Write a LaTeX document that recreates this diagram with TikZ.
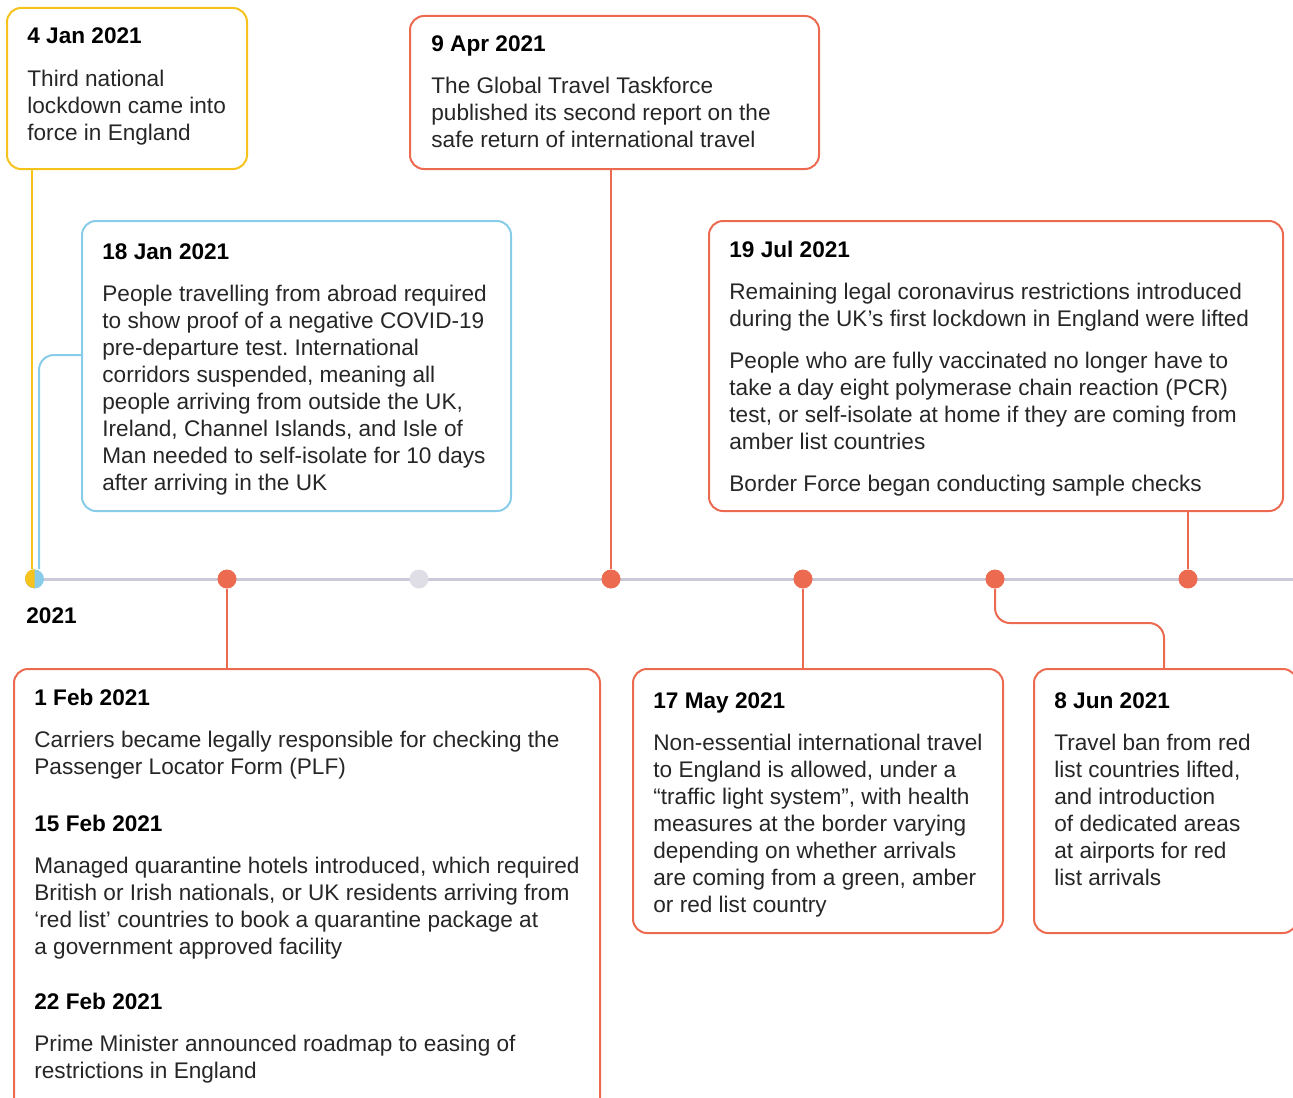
\documentclass[tikz,border=0pt]{standalone}
\usepackage{fontspec}
\setmainfont{Liberation Sans}
\usetikzlibrary{fit}
\frenchspacing

\definecolor{tlorange}{HTML}{EC6A4F}
\definecolor{tlyellow}{HTML}{F6C21C}
\definecolor{tlblue}{HTML}{88CCEA}
\definecolor{tlaxis}{HTML}{CBC9D9}
\definecolor{tlpale}{HTML}{DFDEE6}
\definecolor{ink}{HTML}{262626}

\begin{document}
\begin{tikzpicture}[x=0.5pt,y=-0.5pt,%
  every node/.style={font=\fontsize{11.3}{13.5}\selectfont},%
  card/.style={draw=#1,line width=1pt,rounded corners=7pt,inner sep=0pt},%
  date/.style={font=\fontsize{11.3}{13.5}\selectfont\bfseries,anchor=base west,inner sep=0pt},%
  note/.style={anchor=north west,yshift=8pt,align=left,inner sep=0pt,text=ink,%
    execute at begin node=\strut},%
  dot/.style={circle,fill=#1,minimum size=9.5pt,inner sep=0pt},%
  link/.style={draw=#1,line width=1pt,rounded corners=7.5pt}]

  \useasboundingbox (0,0) rectangle (1293,1097);
  \clip (0,0) rectangle (1293,1097);

  \draw[tlaxis,line width=1.5pt] (34,579) -- (1300,579);
  \node[dot=tlblue] (d1) at (34.5,579) {};
  \fill[tlyellow] (d1.north) arc[start angle=90,end angle=270,radius=4.75pt] -- cycle;
  \node[dot=tlorange] (d2) at (227,579) {};
  \node[dot=tlpale] (d3) at (419,579) {};
  \node[dot=tlorange] (d4) at (611,579) {};
  \node[dot=tlorange] (d5) at (803,579) {};
  \node[dot=tlorange] (d6) at (995,579) {};
  \node[dot=tlorange] (d7) at (1188,579) {};
  \node[date] (year) at (26,623) {2021};

  \node[card=tlyellow,fit={(7,8) (247,169)}] (jan4) {};
  \node[date] (jan4-date) at (27,44) {4 Jan 2021};
  \node[note] (jan4-text) at (27,86) {Third national\\lockdown came into\\force in England};

  \node[card=tlblue,fit={(82,221) (511,511)}] (jan18) {};
  \node[date] (jan18-date) at (102,259) {18 Jan 2021};
  \node[note] (jan18-text) at (102,301) {People travelling from abroad required\\to show proof of a negative COVID-19\\pre-departure test. International\\corridors suspended, meaning all\\people arriving from outside the UK,\\Ireland, Channel Islands, and Isle of\\Man needed to self-isolate for 10 days\\after arriving in the UK};

  \node[card=tlorange,fit={(410,16) (819,169)}] (apr9) {};
  \node[date] (apr9-date) at (431,52) {9 Apr 2021};
  \node[note] (apr9-text) at (431,93) {The Global Travel Taskforce\\published its second report on the\\safe return of international travel};

  \node[card=tlorange,fit={(709,221) (1283,511)}] (jul19) {};
  \node[date] (jul19-date) at (729,257) {19 Jul 2021};
  \node[note] (jul19-text) at (729,299) {Remaining legal coronavirus restrictions introduced\\during the UK’s first lockdown in England were lifted\\[7.5pt]People who are fully vaccinated no longer have to\\take a day eight polymerase chain reaction (PCR)\\test, or self-isolate at home if they are coming from\\amber list countries\\[7.5pt]Border Force began conducting sample checks};

  \node[card=tlorange,fit={(14,669) (600,1115)}] (feb1) {};
  \node[date] (feb1-date) at (34,705) {1 Feb 2021};
  \node[note] (feb1-text) at (34,747) {Carriers became legally responsible for checking the\\Passenger Locator Form (PLF)};
  \node[date] (feb15-date) at (34,831) {15 Feb 2021};
  \node[note] (feb15-text) at (34,873) {Managed quarantine hotels introduced, which required\\British or Irish nationals, or UK residents arriving from\\‘red list’ countries to book a quarantine package at\\a government approved facility};
  \node[date] (feb22-date) at (34,1009) {22 Feb 2021};
  \node[note] (feb22-text) at (34,1051) {Prime Minister announced roadmap to easing of\\restrictions in England};

  \node[card=tlorange,fit={(633,669) (1003,933)}] (may17) {};
  \node[date] (may17-date) at (653,708) {17 May 2021};
  \node[note] (may17-text) at (653,750) {Non-essential international travel\\to England is allowed, under a\\“traffic light system”, with health\\measures at the border varying\\depending on whether arrivals\\are coming from a green, amber\\or red list country};

  \node[card=tlorange,fit={(1034,669) (1297,933)}] (jun8) {};
  \node[date] (jun8-date) at (1054,708) {8 Jun 2021};
  \node[note] (jun8-text) at (1054,750) {Travel ban from red\\list countries lifted,\\and introduction\\of dedicated areas\\at airports for red\\list arrivals};

  \coordinate (ylw) at (32,579);
  \coordinate (blu) at (39,579);
  \coordinate (jun8-in) at (1164,669);
  \draw[link=tlyellow] (ylw |- jan4.south) -- (ylw |- d1.north);
  \draw[link=tlblue] (jan18.west |- 0,355) -- (blu |- 0,355) -- (blu |- d1.north);
  \draw[link=tlorange] (apr9.south -| d4) -- (d4);
  \draw[link=tlorange] (jul19.south -| d7) -- (d7);
  \draw[link=tlorange] (d2) -- (d2 |- feb1.north);
  \draw[link=tlorange] (d5) -- (d5 |- may17.north);
  \draw[link=tlorange] (d6) -- (d6 |- 0,623) -| (jun8-in);
\end{tikzpicture}
\end{document}
